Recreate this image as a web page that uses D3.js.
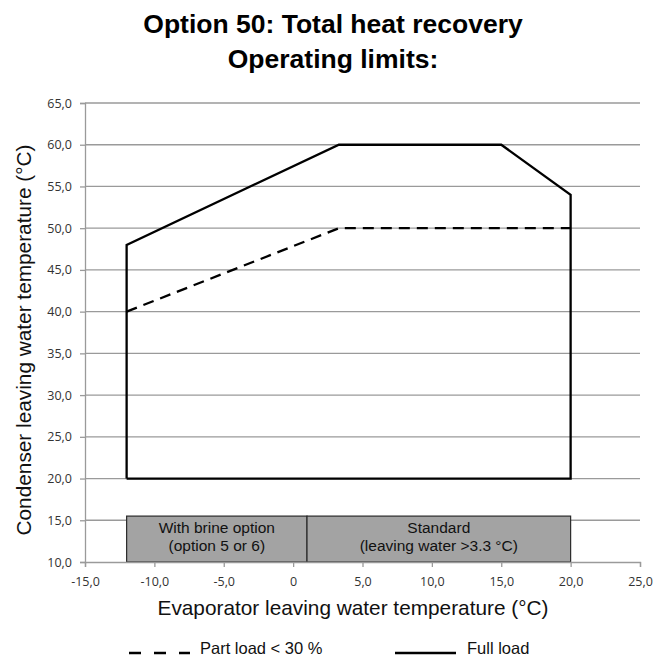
<!DOCTYPE html>
<html>
<head>
<meta charset="utf-8">
<script src="https://cdn.jsdelivr.net/npm/d3@7"></script>
<style>
  html, body { margin: 0; padding: 0; background: #fff; }
  svg { display: block; }
</style>
</head>
<body>
<svg id="chart" width="662" height="657"></svg>
<script>
// Operating envelope: full load (closed outline) and part load (<30 %) limit
const fullLoadX = [-12, -12, 3.3, 15, 20, 20, -12];
const fullLoadY = [20, 48, 60, 60, 54, 20, 20];
const partLoadX = [-12, 3.3, 20];
const partLoadY = [40, 50, 50];

// Evaporator application ranges shown as bands under the envelope
const rangeNames = ["With brine option|(option 5 or 6)", "Standard|(leaving water >3.3 °C)"];
const rangeStart = [-12, 1];
const rangeEnd = [1, 20];
const rangeLow = [10, 10];
const rangeHigh = [15.5, 15.5];

// Axes
const xTicks = [-15, -10, -5, 0, 5, 10, 15, 20, 25];
const yTicks = [10, 15, 20, 25, 30, 35, 40, 45, 50, 55, 60, 65];

const svg = d3.select("#chart");
const plotLeft = 85, plotRight = 640, plotTop = 103, plotBottom = 562;

const x = d3.scaleLinear().domain([-15, 25]).range([plotLeft, plotRight]);
const y = d3.scaleLinear().domain([10, 65]).range([plotBottom, plotTop]);
// Decimal comma and a plain hyphen for negatives
const fmtY = v => v.toFixed(1).replace(".", ",");
const fmtX = v => v === 0 ? "0" : v.toFixed(1).replace(".", ",");

const tickFont = "'Open Sans', 'Liberation Sans', sans-serif";
const mainFont = "'Liberation Sans', Arial, sans-serif";

// Titles
svg.append("text").attr("x", 333).attr("y", 33).attr("text-anchor", "middle")
  .attr("font-family", mainFont).attr("font-weight", "bold")
  .attr("font-size", 26.5).text("Option 50: Total heat recovery");
svg.append("text").attr("x", 333).attr("y", 68).attr("text-anchor", "middle")
  .attr("font-family", mainFont).attr("font-weight", "bold")
  .attr("font-size", 26.5).text("Operating limits:");

// Horizontal gridlines
svg.append("g").selectAll("line").data(yTicks.filter(d => d > 10)).join("line")
  .attr("x1", plotLeft).attr("x2", plotRight)
  .attr("y1", d => y(d)).attr("y2", d => y(d))
  .attr("stroke", "#9a9a9a").attr("stroke-width", 1.3);

// Y axis
const yAxis = d3.axisLeft(y).tickValues(yTicks).tickSize(5).tickPadding(8).tickFormat(fmtY);
const gy = svg.append("g").attr("transform", `translate(${plotLeft},0)`).call(yAxis);
gy.select(".domain").attr("stroke", "#9a9a9a").attr("stroke-width", 1.3);
gy.selectAll(".tick line").attr("stroke", "#9a9a9a").attr("stroke-width", 1.3);
gy.selectAll(".tick text").attr("font-family", tickFont).attr("font-size", 12.5).attr("fill", "#333");

// Range bands
const bands = svg.append("g");
rangeNames.forEach((name, i) => {
  bands.append("rect")
    .attr("x", x(rangeStart[i])).attr("y", y(rangeHigh[i]))
    .attr("width", x(rangeEnd[i]) - x(rangeStart[i]))
    .attr("height", y(rangeLow[i]) - y(rangeHigh[i]))
    .attr("fill", "#a3a3a3").attr("stroke", "#2a2a2a").attr("stroke-width", 1.2);
  const cx = (x(rangeStart[i]) + x(rangeEnd[i])) / 2;
  const t = bands.append("text").attr("text-anchor", "middle")
    .attr("font-family", mainFont).attr("font-size", 15.5).attr("fill", "#111");
  name.split("|").forEach((line, k) => {
    t.append("tspan").attr("x", cx).attr("y", y(rangeHigh[i]) + 17 + k * 18).text(line);
  });
});

// X axis
const xAxis = d3.axisBottom(x).tickValues(xTicks).tickSize(5).tickPadding(10).tickFormat(fmtX);
const gx = svg.append("g").attr("transform", `translate(0,${plotBottom})`).call(xAxis);
gx.select(".domain").attr("stroke", "#9a9a9a").attr("stroke-width", 1.3);
gx.selectAll(".tick line").attr("stroke", "#9a9a9a").attr("stroke-width", 1.3);
gx.selectAll(".tick text").attr("font-family", tickFont).attr("font-size", 12.5).attr("fill", "#333");

// Envelope lines
const line = d3.line().x(d => x(d[0])).y(d => y(d[1]));
svg.append("path").datum(partLoadX.map((v, i) => [v, partLoadY[i]]))
  .attr("d", line).attr("fill", "none").attr("stroke", "#000")
  .attr("stroke-width", 2.3).attr("stroke-dasharray", "11,7");
svg.append("path").datum(fullLoadX.map((v, i) => [v, fullLoadY[i]]))
  .attr("d", line).attr("fill", "none").attr("stroke", "#000")
  .attr("stroke-width", 2.3).attr("stroke-linejoin", "miter");

// Axis titles
svg.append("text").attr("x", 353).attr("y", 615).attr("text-anchor", "middle")
  .attr("font-family", mainFont).attr("font-size", 20.8)
  .attr("fill", "#111").text("Evaporator leaving water temperature (°C)");
svg.append("text").attr("transform", "translate(31,340) rotate(-90)").attr("text-anchor", "middle")
  .attr("font-family", mainFont).attr("font-size", 20.8)
  .attr("fill", "#111").text("Condenser leaving water temperature (°C)");

// Legend
const leg = svg.append("g");
leg.append("line").attr("x1", 129).attr("x2", 190).attr("y1", 653).attr("y2", 653)
  .attr("stroke", "#000").attr("stroke-width", 2.3).attr("stroke-dasharray", "12,13");
leg.append("text").attr("x", 200).attr("y", 654)
  .attr("font-family", mainFont).attr("font-size", 16.5)
  .attr("fill", "#111").text("Part load < 30 %");
leg.append("line").attr("x1", 395).attr("x2", 456).attr("y1", 653).attr("y2", 653)
  .attr("stroke", "#000").attr("stroke-width", 2.3);
leg.append("text").attr("x", 467).attr("y", 654)
  .attr("font-family", mainFont).attr("font-size", 16.5)
  .attr("fill", "#111").text("Full load");
</script>
</body>
</html>
